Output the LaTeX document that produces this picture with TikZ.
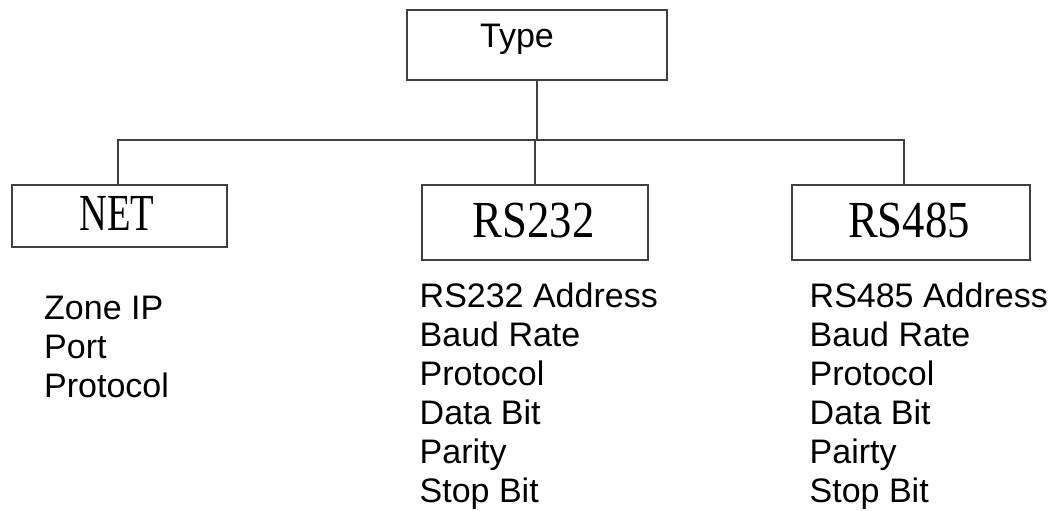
\documentclass[tikz,border=0pt]{standalone}
\usepackage{fontspec}
\setmainfont{Liberation Sans}
\newfontfamily\boxfont[FakeStretch=0.86]{Liberation Serif}
\newfontfamily\netfont[FakeStretch=0.74]{Liberation Serif}
\begin{document}
\begin{tikzpicture}[x=1pt,y=-1pt,
  boxnode/.style={draw=black!75, line width=2pt, inner sep=0pt, minimum width=#1},
  conn/.style={draw=black!75, line width=2pt},
  boxtext/.style={inner sep=0pt, anchor=base, font=\boxfont\fontsize{52}{52}\selectfont},
  listtext/.style={inner sep=0pt, anchor=north west, align=left, font=\fontsize{34}{39}\selectfont},
  toptext/.style={inner sep=0pt, anchor=base, font=\fontsize{34}{39}\selectfont}]
\useasboundingbox (0,0) rectangle (1057,511);
\fill[white] (0,0) rectangle (1057,511);
% boxes
\node[boxnode=260pt, minimum height=70pt] (type) at (537,45) {};
\node[boxnode=215pt, minimum height=62pt] (net) at (119.5,216) {};
\node[boxnode=226pt, minimum height=75pt] (rs232) at (535,222.5) {};
\node[boxnode=238pt, minimum height=75pt] (rs485) at (911,222.5) {};
% box texts
\node[toptext] (typet) at (517,48) {Type};
\node[boxtext, font=\netfont\fontsize{52}{52}\selectfont] (nett) at (117,230) {NET};
\node[boxtext] (rs232t) at (533.5,237) {RS232};
\node[boxtext] (rs485t) at (909,237) {RS485};
% connectors
\coordinate (busL) at (118,140);
\coordinate (busR) at (904,140);
\coordinate (j485) at (904,185);
\coordinate (jnet) at (118,185);
\draw[conn] (type.south) -- (type.south |- busL);
\draw[conn] (jnet) -- (busL) -- (busR) -- (j485);
\draw[conn] (rs232.north |- busL) -- (rs232.north);
% lists
\node[listtext] (netlist) at (44,295.7) {Zone IP\\Port\\Protocol};
\node[listtext] (rs232list) at (419.5,282.7) {RS232 Address\\Baud Rate\\Protocol\\Data Bit\\Parity\\Stop Bit};
\node[listtext] (rs485list) at (809.5,282.7) {RS485 Address\\Baud Rate\\Protocol\\Data Bit\\Pairty\\Stop Bit};
\end{tikzpicture}
\end{document}
